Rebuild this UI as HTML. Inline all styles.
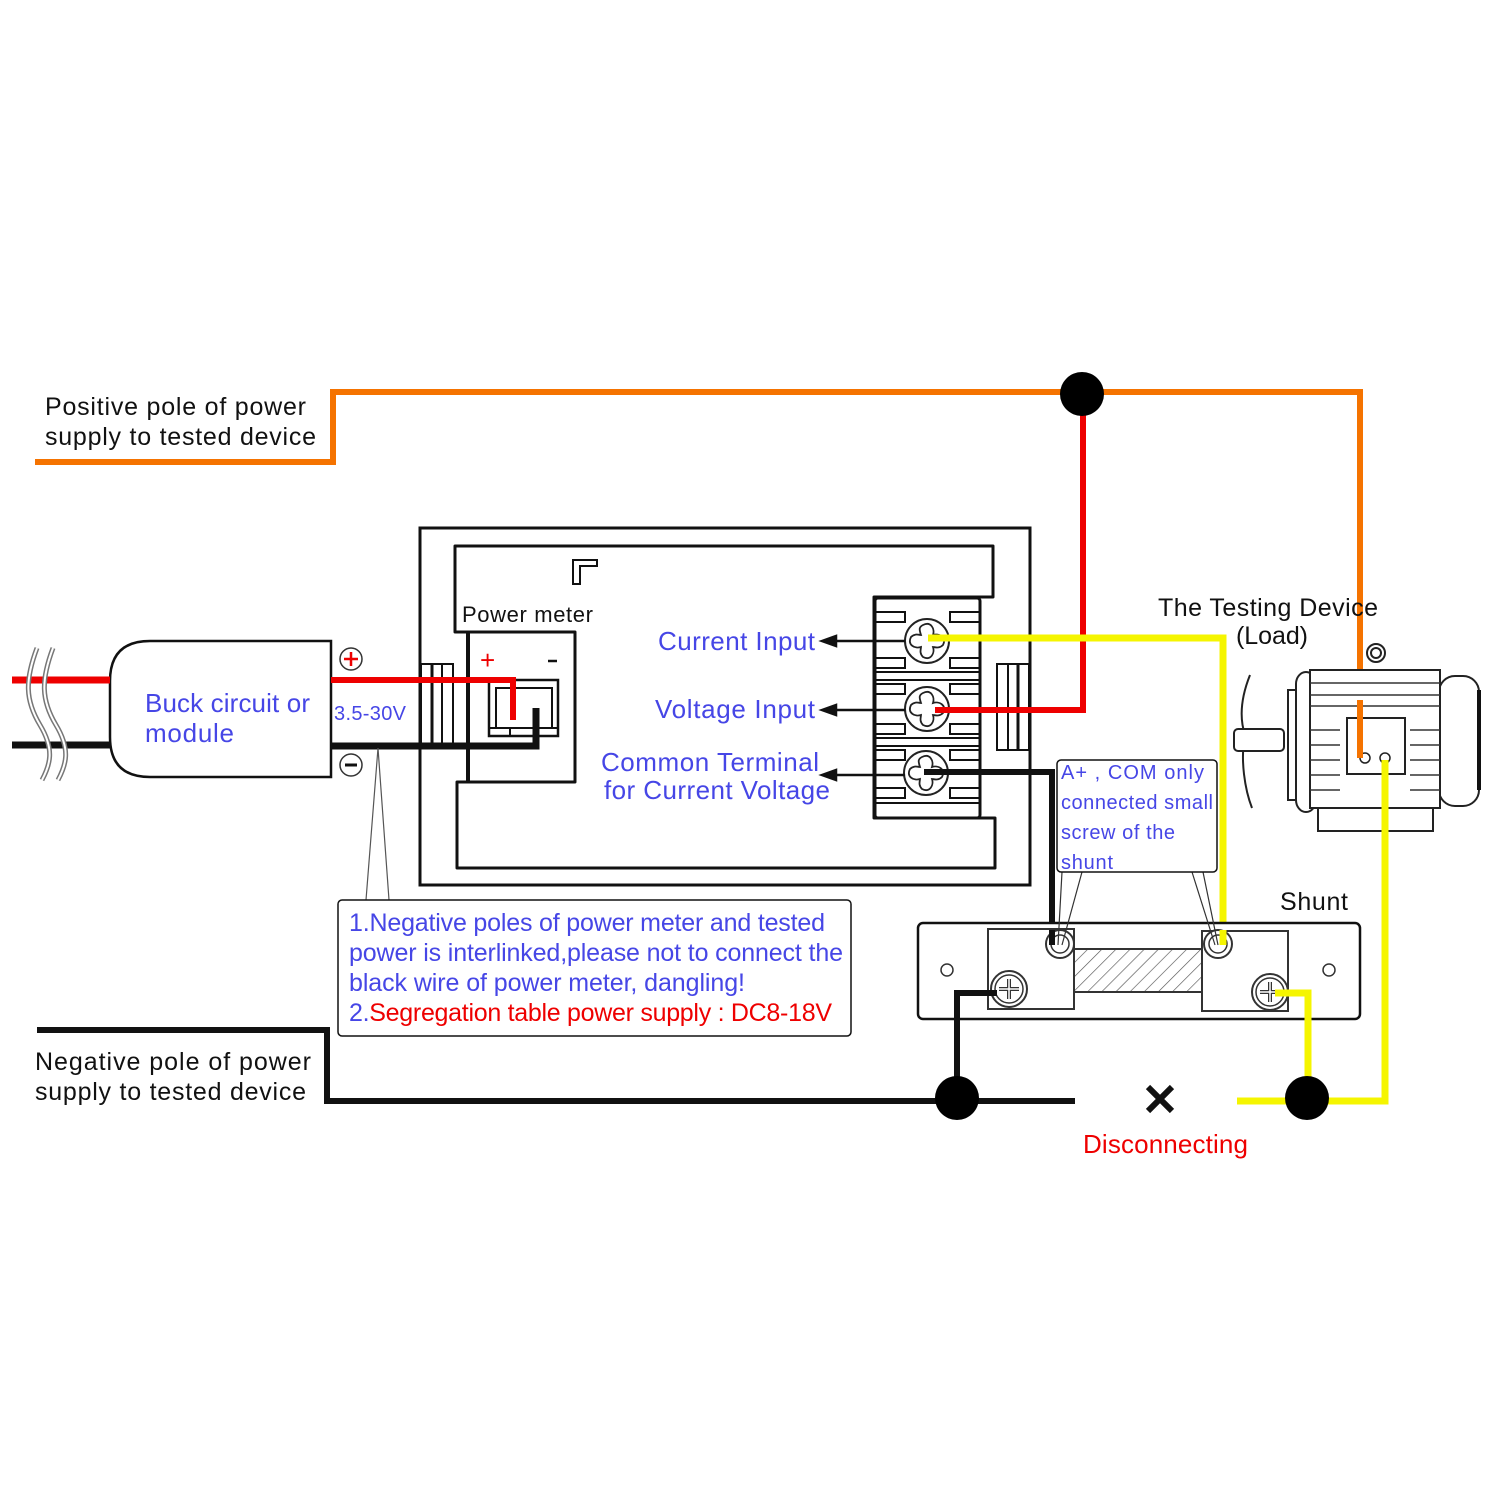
<!DOCTYPE html>
<html><head><meta charset="utf-8"><style>
html,body{margin:0;padding:0;background:#fff}
svg{display:block}
text{font-family:"Liberation Sans",sans-serif}
.b{fill:#4646e6}
</style></head><body>
<svg width="1500" height="1500" viewBox="0 0 1500 1500" xmlns="http://www.w3.org/2000/svg">
<defs>
<g id="scr">
<circle r="22" fill="#fff" stroke="#222" stroke-width="2"/>
<path d="M-4,-16 C4,-20 8,-12 6,-6 C12,-8 20,-4 16,4 C12,8 8,6 6,6 C8,12 4,20 -4,16 C-8,12 -6,8 -6,6 C-12,8 -20,4 -16,-4 C-12,-8 -8,-6 -6,-6 C-8,-12 -8,-14 -4,-16Z" fill="none" stroke="#222" stroke-width="1.8"/>
</g>
<g id="ss">
<circle r="18" fill="#fff" stroke="#333" stroke-width="2"/><circle r="14" fill="none" stroke="#333" stroke-width="1.5"/>
<path d="M-10,0H10M0,-10V10" stroke="#333" stroke-width="4"/><path d="M-10,0H10M0,-10V10" stroke="#fff" stroke-width="1.5"/>
</g>
<pattern id="hat" width="10" height="10" patternUnits="userSpaceOnUse" patternTransform="rotate(45)"><line x1="0" y1="0" x2="0" y2="10" stroke="#555" stroke-width="1.3"/></pattern>
</defs>

<polyline points="35,462 333,462 333,392 1360,392 1360,760" fill="none" stroke="#f57300" stroke-width="6"/>
<text x="45" y="415" font-size="25" fill="#111" textLength="261">Positive pole of power</text>
<text x="45" y="445" font-size="25" fill="#111" textLength="271">supply to tested device</text>

<rect x="420" y="528" width="610" height="357" fill="none" stroke="#111" stroke-width="3"/>
<path d="M455,546 H993 V597 H874 V818 H995 V868 H457 V782 H575 V632 H455 Z" fill="none" stroke="#111" stroke-width="3" stroke-linejoin="round"/>
<path d="M573,560 H597 V566 H580 V584 H573 Z" fill="none" stroke="#111" stroke-width="2"/>
<text x="462" y="622" font-size="22" fill="#111" textLength="131">Power meter</text>
<line x1="468" y1="632" x2="468" y2="782" stroke="#111" stroke-width="4"/>
<text x="480" y="669" font-size="26" fill="#e00">+</text>
<line x1="548" y1="661" x2="557" y2="661" stroke="#111" stroke-width="2.5"/>
<rect x="489" y="680" width="69" height="56" fill="none" stroke="#111" stroke-width="2.5"/>
<rect x="496" y="688" width="56" height="40" fill="none" stroke="#111" stroke-width="2"/>
<line x1="489" y1="728" x2="558" y2="728" stroke="#111" stroke-width="2"/>
<line x1="510" y1="728" x2="510" y2="736" stroke="#111" stroke-width="2"/>
<rect x="421" y="664" width="32" height="80" fill="#fff" stroke="#111" stroke-width="2"/>
<line x1="432" y1="664" x2="432" y2="744" stroke="#111" stroke-width="3"/>
<line x1="442" y1="664" x2="442" y2="744" stroke="#111" stroke-width="2"/>
<rect x="997" y="664" width="32" height="86" fill="#fff" stroke="#111" stroke-width="2"/>
<line x1="1008" y1="664" x2="1008" y2="750" stroke="#111" stroke-width="2"/>
<line x1="1018" y1="664" x2="1018" y2="750" stroke="#111" stroke-width="3"/>

<rect x="875" y="598" width="105" height="220" fill="#fff" stroke="#111" stroke-width="3" rx="3"/>
<g stroke="#111" stroke-width="2" fill="none">
<line x1="875" y1="672" x2="980" y2="672"/><line x1="875" y1="680" x2="980" y2="680"/>
<line x1="875" y1="738" x2="980" y2="738"/><line x1="875" y1="746" x2="980" y2="746"/>
<line x1="875" y1="803" x2="980" y2="803"/>
<path d="M875,612 H905 V622 H875 M980,612 H950 V622 H980 M875,658 H905 V668 H875 M980,658 H950 V668 H980"/>
<path d="M875,684 H905 V694 H875 M980,684 H950 V694 H980 M875,724 H905 V734 H875 M980,724 H950 V734 H980"/>
<path d="M875,750 H905 V760 H875 M980,750 H950 V760 H980 M875,788 H905 V798 H875 M980,788 H950 V798 H980"/>
</g>
<use href="#scr" x="927" y="641"/><use href="#scr" x="927" y="709"/><use href="#scr" x="926" y="773"/>
<g stroke="#111" stroke-width="2.5" fill="#111">
<line x1="835" y1="641" x2="905" y2="641"/><path d="M822,641 l14,-5 v10z"/>
<line x1="835" y1="710" x2="905" y2="710"/><path d="M822,710 l14,-5 v10z"/>
<line x1="835" y1="775" x2="905" y2="775"/><path d="M822,775 l14,-5 v10z"/>
</g>
<text x="658" y="650" font-size="26" class="b" textLength="157">Current Input</text>
<text x="655" y="718" font-size="26" class="b" textLength="160">Voltage Input</text>
<text x="601" y="771" font-size="26" class="b" textLength="218">Common Terminal</text>
<text x="604" y="799" font-size="26" class="b" textLength="226">for Current Voltage</text>

<path d="M150,641 H331 V777 H150 Q110,777 110,737 V681 Q110,641 150,641 Z" fill="#fff" stroke="#111" stroke-width="2.5"/>
<text x="145" y="712" font-size="26" class="b" textLength="165">Buck circuit or</text>
<text x="145" y="742" font-size="26" class="b" textLength="89">module</text>
<text x="334" y="720" font-size="20" class="b" textLength="72">3.5-30V</text>
<circle cx="351" cy="659" r="11" fill="#fff" stroke="#333" stroke-width="1.5"/>
<path d="M344,659h14M351,652v14" stroke="#e00" stroke-width="2.5"/>
<circle cx="351" cy="765" r="11" fill="#fff" stroke="#333" stroke-width="1.5"/>
<path d="M345,765h12" stroke="#111" stroke-width="3"/>
<line x1="12" y1="680" x2="110" y2="680" stroke="#e00" stroke-width="7"/>
<line x1="12" y1="745" x2="110" y2="745" stroke="#111" stroke-width="7"/>
<path d="M37,648 C25,680 25,700 40,725 C55,750 50,765 42,780 M53,648 C41,680 41,700 56,725 C71,750 66,765 58,780" fill="none" stroke="#777" stroke-width="5"/>
<path d="M37,648 C25,680 25,700 40,725 C55,750 50,765 42,780 M53,648 C41,680 41,700 56,725 C71,750 66,765 58,780" fill="none" stroke="#fff" stroke-width="2"/>
<polyline points="331,680 513,680 513,720" fill="none" stroke="#e00" stroke-width="6"/>
<polyline points="331,746 536,746 536,708" fill="none" stroke="#111" stroke-width="7"/>
<path d="M378,748 L366,900 M378,748 L389,900" stroke="#555" stroke-width="1.2" fill="none"/>
<rect x="338" y="900" width="513" height="136" rx="4" fill="#fff" stroke="#111" stroke-width="1.5"/>
<text x="349" y="931" font-size="25" class="b" textLength="476">1.Negative poles of power meter and tested</text>
<text x="349" y="961" font-size="25" class="b" textLength="494">power is interlinked,please not to connect the</text>
<text x="349" y="991" font-size="25" class="b" textLength="396">black wire of power meter, dangling!</text>
<text x="349" y="1021" font-size="25" fill="#e00" textLength="483"><tspan class="b">2.</tspan>Segregation table power supply : DC8-18V</text>

<polyline points="1083,394 1083,710 935,710" fill="none" stroke="#e00" stroke-width="6"/>
<circle cx="1082" cy="394" r="22" fill="#000"/>
<polyline points="928,638 1223,638 1223,945" fill="none" stroke="#f5f500" stroke-width="7"/>
<polyline points="924,772 1052,772 1052,945" fill="none" stroke="#111" stroke-width="6"/>

<text x="1158" y="616" font-size="25" fill="#111" textLength="220">The Testing Device</text>
<text x="1236" y="644" font-size="25" fill="#111" textLength="72">(Load)</text>
<g fill="#fff" stroke="#222" stroke-width="2">
<circle cx="1376" cy="653" r="9"/><circle cx="1376" cy="653" r="5"/>
<path d="M1250,675 C1240,700 1240,720 1245,735 C1240,760 1245,790 1252,808" />
<rect x="1234" y="729" width="50" height="22" rx="4"/>
<rect x="1288" y="690" width="8" height="110"/>
<rect x="1296" y="672" width="20" height="140" rx="12"/>
<rect x="1439" y="676" width="40" height="130" rx="16"/>
<rect x="1310" y="670" width="130" height="138"/>
<rect x="1318" y="808" width="115" height="23"/>
<rect x="1347" y="718" width="58" height="56"/>
</g>
<line x1="1479" y1="690" x2="1479" y2="790" stroke="#111" stroke-width="4"/>
<g stroke="#333" stroke-width="1.5">
<line x1="1310" y1="683" x2="1440" y2="683"/><line x1="1310" y1="695" x2="1440" y2="695"/><line x1="1310" y1="706" x2="1440" y2="706"/>
<line x1="1310" y1="730" x2="1340" y2="730"/><line x1="1310" y1="745" x2="1340" y2="745"/><line x1="1310" y1="760" x2="1340" y2="760"/><line x1="1310" y1="775" x2="1340" y2="775"/><line x1="1310" y1="790" x2="1340" y2="790"/>
<line x1="1410" y1="730" x2="1440" y2="730"/><line x1="1410" y1="745" x2="1440" y2="745"/><line x1="1410" y1="760" x2="1440" y2="760"/><line x1="1410" y1="775" x2="1440" y2="775"/><line x1="1410" y1="790" x2="1440" y2="790"/>
</g>
<circle cx="1365" cy="758" r="5" fill="#fff" stroke="#222" stroke-width="1.5"/>
<circle cx="1385" cy="758" r="5" fill="#fff" stroke="#222" stroke-width="1.5"/>
<line x1="1360" y1="700" x2="1360" y2="758" stroke="#f57300" stroke-width="6"/>

<text x="1280" y="910" font-size="25" fill="#111" textLength="68">Shunt</text>
<rect x="918" y="923" width="442" height="96" rx="5" fill="#fff" stroke="#111" stroke-width="2.5"/>
<rect x="988" y="929" width="86" height="80" fill="#fff" stroke="#333" stroke-width="2"/>
<rect x="1202" y="931" width="86" height="80" fill="#fff" stroke="#333" stroke-width="2"/>
<rect x="1074" y="949" width="128" height="43" fill="url(#hat)" stroke="#333" stroke-width="2"/>
<circle cx="947" cy="970" r="6" fill="#fff" stroke="#333" stroke-width="1.5"/>
<circle cx="1329" cy="970" r="6" fill="#fff" stroke="#333" stroke-width="1.5"/>
<use href="#ss" x="1009" y="989"/><use href="#ss" x="1270" y="992"/>
<circle cx="1060" cy="944" r="14" fill="#fff" stroke="#333" stroke-width="2"/><circle cx="1060" cy="944" r="9" fill="none" stroke="#333" stroke-width="1.5"/>
<circle cx="1218" cy="944" r="14" fill="#fff" stroke="#333" stroke-width="2"/><circle cx="1218" cy="944" r="9" fill="none" stroke="#333" stroke-width="1.5"/>
<line x1="1052" y1="930" x2="1052" y2="945" stroke="#111" stroke-width="6"/>
<line x1="1223" y1="930" x2="1223" y2="945" stroke="#f5f500" stroke-width="7"/>
<path d="M1062,872 L1058,945 M1082,872 L1062,945 M1192,872 L1215,945 M1203,872 L1218,945" stroke="#333" stroke-width="1.2" fill="none"/>
<rect x="1057" y="760" width="160" height="112" rx="4" fill="#fff" stroke="#111" stroke-width="1.5"/>
<text x="1061" y="779" font-size="20" class="b" textLength="143">A+ , COM only</text>
<text x="1061" y="809" font-size="20" class="b" textLength="152">connected small</text>
<text x="1061" y="839" font-size="20" class="b" textLength="114">screw of the</text>
<text x="1061" y="869" font-size="20" class="b" textLength="52">shunt</text>

<polyline points="37,1030 327,1030 327,1101 1075,1101" fill="none" stroke="#111" stroke-width="6"/>
<polyline points="957,1098 957,993 997,993" fill="none" stroke="#111" stroke-width="6"/>
<text x="35" y="1070" font-size="25" fill="#111" textLength="276">Negative pole of power</text>
<text x="35" y="1100" font-size="25" fill="#111" textLength="271">supply to tested device</text>
<circle cx="957" cy="1098" r="22" fill="#000"/>
<polyline points="1275,993 1308,993 1308,1098" fill="none" stroke="#f5f500" stroke-width="7"/>
<polyline points="1385,760 1385,1101 1237,1101" fill="none" stroke="#f5f500" stroke-width="7"/>
<circle cx="1307" cy="1098" r="22" fill="#000"/>
<path d="M1148,1087 L1172,1111 M1172,1087 L1148,1111" stroke="#111" stroke-width="6"/>
<text x="1083" y="1153" font-size="26" fill="#e00" textLength="165">Disconnecting</text>
</svg>
</body></html>
